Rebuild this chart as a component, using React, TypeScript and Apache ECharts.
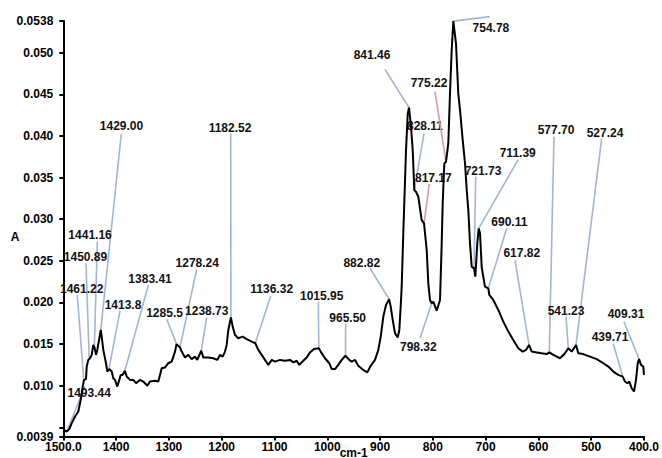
import React, { useEffect, useRef } from "react";
import * as echarts from "echarts";

// Spectrum: wavenumber (cm-1) and absorbance (A)
const wavenumbers = [
  1499.5, 1493.6, 1488.6, 1484.0, 1477.8, 1471.6, 1467.0, 1463.2, 1460.8, 1457.0,
  1455.7, 1452.6, 1449.4, 1446.2, 1443.2, 1440.5, 1438.1, 1435.6, 1429.0, 1427.3,
  1424.2, 1419.1, 1416.7, 1412.9, 1408.3, 1405.3, 1402.1, 1397.7, 1393.9, 1391.3,
  1387.5, 1383.4, 1379.9, 1373.6, 1367.4, 1362.3, 1354.7, 1348.5, 1340.9, 1335.8,
  1326.3, 1320.0, 1316.8, 1313.6, 1307.3, 1301.1, 1294.7, 1288.4, 1285.5, 1279.0,
  1275.7, 1269.5, 1263.2, 1256.8, 1250.5, 1246.2, 1238.7, 1234.8, 1225.3, 1215.9,
  1208.3, 1203.2, 1198.1, 1193.7, 1190.5, 1187.4, 1182.5, 1179.1, 1174.7, 1168.5,
  1160.2, 1152.6, 1143.1, 1136.3, 1130.6, 1124.2, 1117.9, 1111.7, 1105.2, 1099.0,
  1089.5, 1080.0, 1070.6, 1064.3, 1057.9, 1052.9, 1045.4, 1038.9, 1032.7, 1025.1,
  1016.0, 1012.4, 1004.3, 996.1, 991.6, 985.3, 979.1, 972.6, 965.5, 958.2,
  953.7, 947.4, 941.2, 931.7, 924.1, 917.7, 909.5, 903.3, 898.7, 893.8,
  888.7, 882.8, 879.8, 876.0, 871.7, 866.5, 863.5, 860.9, 859.0, 855.9,
  850.8, 847.5, 845.1, 841.9, 838.1, 835.1, 831.9, 827.5, 821.1, 816.7,
  811.6, 808.6, 805.4, 802.1, 799.1, 792.7, 786.4, 783.2, 781.3, 778.3,
  775.1, 770.7, 767.5, 764.3, 761.2, 756.1, 751.8, 748.5, 743.4, 739.0,
  735.8, 732.8, 729.6, 726.4, 722.0, 719.5, 715.8, 713.1, 710.6, 707.4,
  701.2, 694.9, 693.0, 685.5, 676.0, 666.5, 657.0, 647.6, 638.1, 629.8,
  623.5, 617.8, 612.7, 603.2, 593.8, 584.3, 579.4, 571.8, 559.1, 549.6,
  543.4, 536.9, 528.8, 524.4, 515.0, 502.3, 489.6, 477.1, 467.6, 458.1,
  448.7, 440.3, 436.0, 431.6, 427.8, 423.3, 418.9, 415.1, 411.9, 409.3,
  405.7, 401.3, 400.0,
];
const absorbance = [
  0.0047, 0.0045, 0.0048, 0.0055, 0.0063, 0.0069, 0.0083, 0.0099, 0.0107, 0.0108,
  0.0123, 0.0131, 0.0133, 0.0137, 0.0149, 0.0145, 0.0137, 0.0143, 0.0167, 0.0159,
  0.0143, 0.0127, 0.0117, 0.0120, 0.0117, 0.0109, 0.0107, 0.0099, 0.0107, 0.0113,
  0.0113, 0.0118, 0.0111, 0.0107, 0.0107, 0.0103, 0.0107, 0.0105, 0.0100, 0.0105,
  0.0106, 0.0105, 0.0113, 0.0121, 0.0122, 0.0127, 0.0129, 0.0141, 0.0150, 0.0146,
  0.0141, 0.0134, 0.0137, 0.0132, 0.0135, 0.0131, 0.0142, 0.0134, 0.0134, 0.0133,
  0.0131, 0.0137, 0.0135, 0.0141, 0.0149, 0.0167, 0.0182, 0.0171, 0.0161, 0.0157,
  0.0159, 0.0156, 0.0153, 0.0151, 0.0143, 0.0137, 0.0131, 0.0125, 0.0131, 0.0129,
  0.0131, 0.0130, 0.0131, 0.0128, 0.0130, 0.0125, 0.0130, 0.0134, 0.0140, 0.0144,
  0.0145, 0.0141, 0.0133, 0.0127, 0.0120, 0.0120, 0.0125, 0.0131, 0.0136, 0.0131,
  0.0129, 0.0131, 0.0124, 0.0119, 0.0116, 0.0124, 0.0131, 0.0143, 0.0159, 0.0183,
  0.0197, 0.0204, 0.0195, 0.0179, 0.0163, 0.0158, 0.0167, 0.0195, 0.0219, 0.0284,
  0.0383, 0.0427, 0.0434, 0.0415, 0.0383, 0.0335, 0.0333, 0.0327, 0.0299, 0.0295,
  0.0263, 0.0223, 0.0203, 0.0199, 0.0201, 0.0190, 0.0203, 0.0271, 0.0319, 0.0367,
  0.0369, 0.0391, 0.0451, 0.0503, 0.0538, 0.0511, 0.0451, 0.0431, 0.0395, 0.0367,
  0.0335, 0.0311, 0.0271, 0.0243, 0.0241, 0.0231, 0.0271, 0.0289, 0.0283, 0.0242,
  0.0219, 0.0217, 0.0209, 0.0203, 0.0191, 0.0177, 0.0165, 0.0155, 0.0145, 0.0141,
  0.0143, 0.0149, 0.0141, 0.0140, 0.0139, 0.0138, 0.0140, 0.0137, 0.0133, 0.0139,
  0.0145, 0.0141, 0.0149, 0.0139, 0.0138, 0.0135, 0.0132, 0.0127, 0.0123, 0.0117,
  0.0113, 0.0111, 0.0105, 0.0103, 0.0105, 0.0097, 0.0093, 0.0107, 0.0127, 0.0132,
  0.0125, 0.0123, 0.0113,
];

// Peak annotations: label text, and the curve point the leader line touches
const peakLabels = [
  "1429.00", "1441.16", "1450.89", "1461.22", "1493.44", "1413.8", "1383.41",
  "1285.5", "1278.24", "1238.73", "1182.52", "1136.32", "1015.95", "965.50",
  "882.82", "841.46", "828.11", "817.17", "775.22", "754.78", "721.73", "711.39",
  "690.11", "617.82", "577.70", "527.24", "541.23", "439.71", "409.31", "798.32",
];
const peakW = [
  1429.0, 1441.2, 1450.9, 1461.2, 1493.4, 1413.8, 1383.4,
  1285.5, 1279.0, 1238.7, 1182.5, 1136.3, 1016.0, 965.5,
  882.8, 845.1, 835.1, 816.7, 775.1, 761.2, 722.0, 713.1,
  694.9, 617.8, 579.4, 528.8, 543.4, 440.3, 409.3, 802.1,
];
const peakA = [
  0.0167, 0.0146, 0.0132, 0.0106, 0.0045, 0.0119, 0.0118,
  0.0150, 0.0146, 0.0142, 0.0182, 0.0151, 0.0145, 0.0136,
  0.0204, 0.0434, 0.0335, 0.0295, 0.0369, 0.0538, 0.0241, 0.0289,
  0.0217, 0.0149, 0.0140, 0.0149, 0.0145, 0.0111, 0.0132, 0.0199,
];

// Layout (pixels, relative to the touched point): label centre dx, dy; leader start dx, dy
const labelLayout = [
  [20.7, -204, 20.5, -196], [-4.3, -112.4, 3, -105.9], [-3.7, -101.6, -3.2, -95.8],
  [-2.1, -91.4, -6.5, -85.7], [22.4, -38.2, 18.2, -45.5], [14.2, -64.9, 11.2, -59.2],
  [25.2, -92.1, 23.5, -85.8], [-12, -31.1, -9.8, -24.8], [17.3, -84.1, 16.7, -78.1],
  [5.5, -40.1, 5.5, -33.5], [-0.9, -189.2, -0.2, -184.2], [16.4, -53.8, 15.4, -47.3],
  [2.9, -52.3, -0.5, -46.6], [2.2, -38.1, 0.2, -32.5], [-27.4, -35.9, -19.1, -30.9],
  [-37, -52.7, -24, -38.2], [10.7, -64.1, 9.7, -56.8], [9.3, -45.1, 5.3, -39.4],
  [-17, -78.5, -11, -70.1], [37.6, 6.4, 36.6, -4.5], [9, -97.7, 1.7, -91.7],
  [39, -75.7, 39.6, -69.1], [21, -66.6, 18.4, -60], [-7.3, -92.2, -14, -84.9],
  [6.7, -222.4, 4.7, -215.7], [29, -212.2, 25.7, -206.6], [-2.3, -37.6, -2.3, -31.6],
  [-12.7, -39.3, -9.4, -32.6], [-13.1, -44.8, -15.1, -37.4], [-13.4, 43.4, -11.7, 35],
];
const pinkLabels = ["817.17", "775.22"];

const yLabelValues = [0.0039, 0.01, 0.015, 0.02, 0.025, 0.03, 0.035, 0.04, 0.045, 0.05, 0.0538];
const yTickValues = [0.0039, 0.005, 0.01, 0.015, 0.02, 0.025, 0.03, 0.035, 0.04, 0.045, 0.05, 0.0538];

const FONT = "'Liberation Sans', Arial, Helvetica, sans-serif";

export default function App() {
  const ref = useRef<HTMLDivElement>(null);
  useEffect(() => {
    if (!ref.current) return;
    const chart = echarts.init(ref.current, null, { renderer: "svg" });
    const option: any = {
      animation: false,
      backgroundColor: "#ffffff",
      grid: {
        left: 63.3,
        right: 18,
        top: 21.1,
        bottom: 21.5,
        containLabel: false,
        outerBoundsMode: "none",
      },
      xAxis: {
        type: "value",
        min: 400,
        max: 1500,
        interval: 100,
        inverse: true,
        name: "cm-1",
        nameLocation: "middle",
        nameGap: 10,
        nameMoveOverlap: false,
        nameTextStyle: { color: "#000", fontSize: 12, fontWeight: "bold", fontFamily: FONT },
        axisLine: { show: true, lineStyle: { color: "#000", width: 2 } },
        axisTick: { show: true, length: 4, lineStyle: { color: "#000", width: 2 } },
        axisLabel: {
          color: "#000",
          fontSize: 12,
          fontWeight: "bold",
          fontFamily: FONT,
          margin: 4,
          showMinLabel: true,
          showMaxLabel: true,
          formatter: (v: number) => (v === 1500 ? "1500.0" : v === 400 ? "400.0" : String(v)),
        },
        splitLine: { show: false },
      },
      yAxis: {
        type: "value",
        min: 0.0039,
        max: 0.0538,
        name: "A",
        nameLocation: "middle",
        nameRotate: 0,
        nameGap: 44,
        nameMoveOverlap: false,
        nameTextStyle: {
          color: "#000",
          fontSize: 12,
          fontWeight: "bold",
          fontFamily: FONT,
          verticalAlign: "top",
          padding: [2, 0, 0, 0],
        },
        axisLine: { show: true, lineStyle: { color: "#000", width: 2 } },
        axisTick: { show: true, length: 4, customValues: yTickValues, lineStyle: { color: "#000", width: 2 } },
        axisLabel: {
          color: "#000",
          fontSize: 12,
          fontWeight: "bold",
          fontFamily: FONT,
          margin: 10,
          customValues: yLabelValues,
          formatter: (v: number) => {
            if (Math.abs(v - 0.0039) < 1e-6) return "0.0039";
            if (Math.abs(v - 0.0538) < 1e-6) return "0.0538";
            return v.toFixed(3);
          },
        },
        splitLine: { show: false },
      },
      series: [
        {
          type: "custom",
          coordinateSystem: "cartesian2d",
          clip: false,
          silent: true,
          z: 2,
          encode: { x: 0, y: 1 },
          data: peakW.map((w, i) => [w, peakA[i]]),
          renderItem: (params: any, api: any) => {
            const i = params.dataIndex;
            const p = api.coord([api.value(0), api.value(1)]);
            const lay = labelLayout[i];
            const text = peakLabels[i];
            const color = pinkLabels.includes(text) ? "#d89aa6" : "#a3b5d6";
            return {
              type: "group",
              children: [
                {
                  type: "line",
                  shape: { x1: p[0] + lay[2], y1: p[1] + lay[3], x2: p[0], y2: p[1] },
                  style: { stroke: color, lineWidth: 1.6 },
                },
                {
                  type: "text",
                  x: p[0] + lay[0],
                  y: p[1] + lay[1],
                  style: {
                    text,
                    fill: "#111",
                    fontSize: 12,
                    fontWeight: "bold",
                    fontFamily: FONT,
                    align: "center",
                    verticalAlign: "middle",
                  },
                },
              ],
            };
          },
        },
        {
          type: "line",
          z: 3,
          silent: true,
          showSymbol: false,
          symbol: "none",
          clip: false,
          lineStyle: { color: "#000", width: 2 },
          data: wavenumbers.map((w, i) => [w, absorbance[i]]),
        },
      ],
    };
    chart.setOption(option);
    return () => chart.dispose();
  }, []);
  return (
    <div
      ref={ref}
      style={{ position: "absolute", left: 0, top: 0, width: 662, height: 458, background: "#fff" }}
    />
  );
}
